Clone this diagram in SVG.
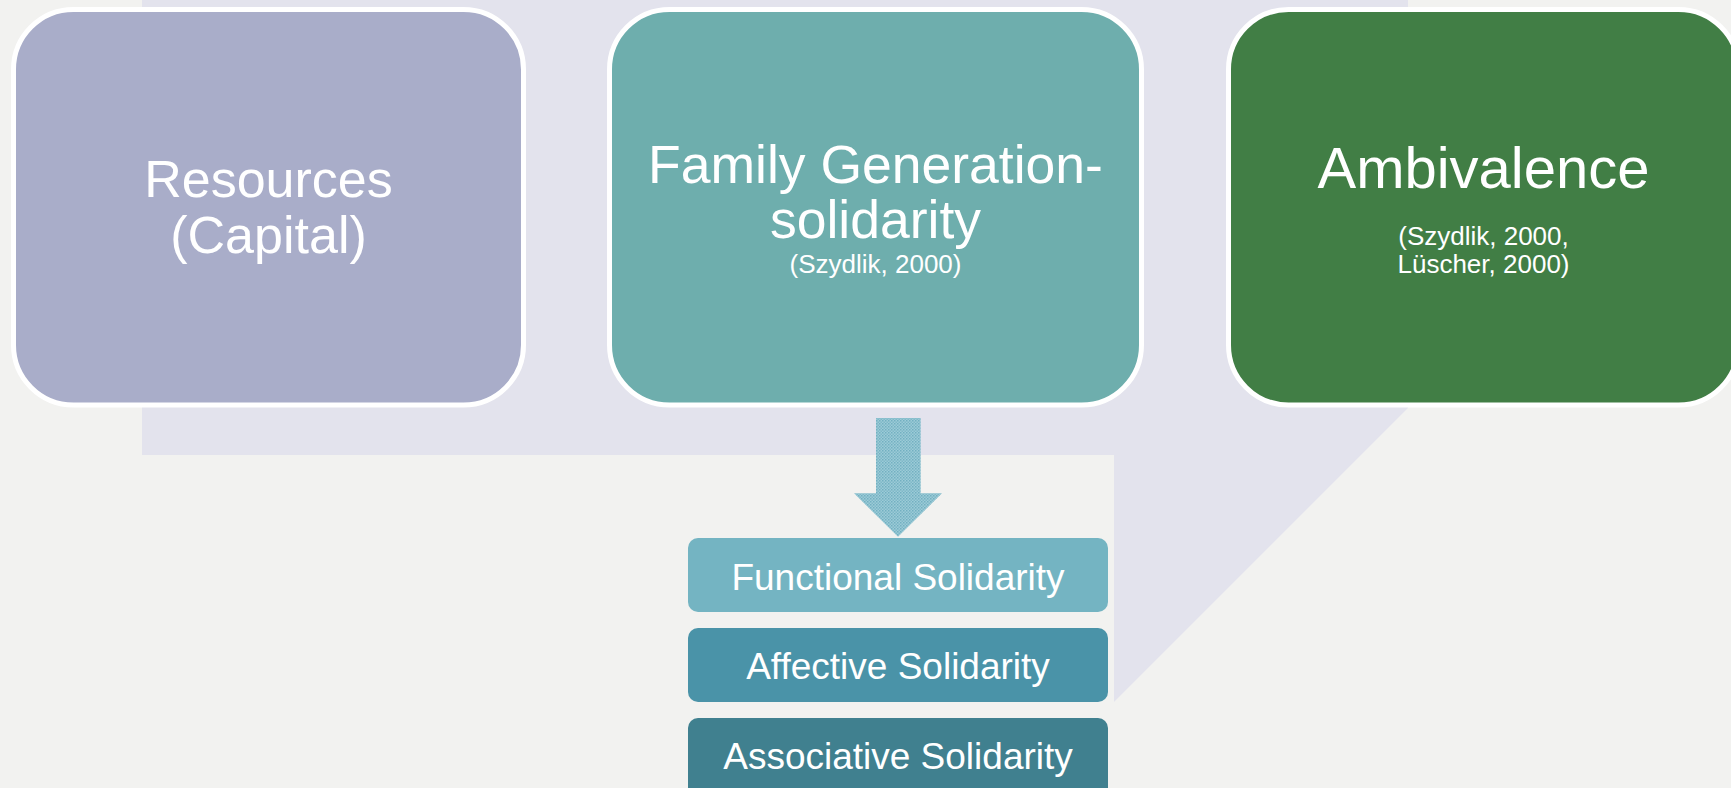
<svg xmlns="http://www.w3.org/2000/svg" width="1731" height="788" viewBox="0 0 1731 788">
  <defs>
    <style>
      .t { font-family: "Liberation Sans", Arial, sans-serif; fill: #ffffff; text-anchor: middle; }
      .title { font-size: 52px; }
      .fam { font-size: 53.5px; }
      .amb { font-size: 58px; }
      .small { font-size: 26px; }
      .sub { font-size: 37px; }
    </style>
    <pattern id="dots" width="3" height="3" patternUnits="userSpaceOnUse">
      <rect width="3" height="3" fill="#9ccbd7"/>
      <rect width="1.5" height="1.5" fill="#72b0c1"/>
      <rect x="1.5" y="1.5" width="1.5" height="1.5" fill="#7fb8c8"/>
    </pattern>
  </defs>

  <rect x="0" y="0" width="1731" height="788" fill="#f2f2f0"/>
  <polygon points="142,0 1408,0 1408,408 1114,702 1114,455 142,455" fill="#e3e3ed"/>

  <g id="node-resources">
    <rect x="13.5" y="9.5" width="510" height="395.5" rx="60" ry="60" fill="#a9adc9" stroke="#ffffff" stroke-width="5"/>
    <text class="t title" x="268.5" y="197">Resources</text>
    <text class="t title" x="268.5" y="253">(Capital)</text>
  </g>

  <g id="node-family">
    <rect x="609.5" y="9.5" width="532" height="395.5" rx="60" ry="60" fill="#6eaead" stroke="#ffffff" stroke-width="5"/>
    <text class="t fam" x="875.5" y="183">Family Generation-</text>
    <text class="t fam" x="875.5" y="238">solidarity</text>
    <text class="t small" x="875.5" y="273">(Szydlik, 2000)</text>
  </g>

  <g id="node-ambivalence">
    <rect x="1228.5" y="9.5" width="510" height="395.5" rx="60" ry="60" fill="#417e45" stroke="#ffffff" stroke-width="5"/>
    <text class="t amb" x="1483.5" y="188">Ambivalence</text>
    <text class="t small" x="1483.5" y="245">(Szydlik, 2000,</text>
    <text class="t small" x="1483.5" y="273">Lüscher, 2000)</text>
  </g>

  <g id="connectors">
    <polygon points="876,418 920.7,418 920.7,493.3 942,493.3 898,536.7 854,493.3 876,493.3" fill="url(#dots)"/>
  </g>

  <g id="node-functional">
    <rect x="688" y="538" width="420" height="74" rx="10" ry="10" fill="#74b4c2"/>
    <text class="t sub" x="898" y="590">Functional Solidarity</text>
  </g>

  <g id="node-affective">
    <rect x="688" y="628" width="420" height="74" rx="10" ry="10" fill="#4a93a8"/>
    <text class="t sub" x="898" y="679">Affective Solidarity</text>
  </g>

  <g id="node-associative">
    <rect x="688" y="718" width="420" height="80" rx="10" ry="10" fill="#40808f"/>
    <text class="t sub" x="898" y="769">Associative Solidarity</text>
  </g>
</svg>
